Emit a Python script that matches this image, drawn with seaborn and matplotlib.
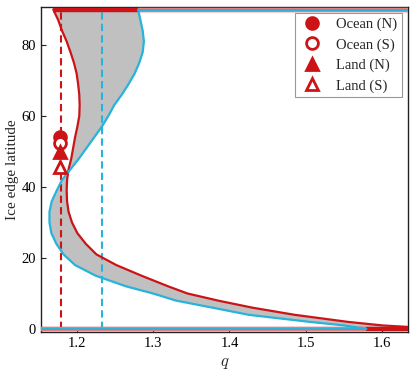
import numpy as np
import pandas as pd
import matplotlib
matplotlib.use("Agg")
import matplotlib.pyplot as plt
import seaborn as sns

# ---------------- data ----------------
lat = [90, 87, 84, 81, 78, 75, 72, 69, 66, 63, 60, 57, 54, 51, 48, 45, 42, 39,
       36, 33, 30, 27, 24, 21, 18, 15, 12, 10, 8, 6, 4, 2, 1, 0.5]
q_red = [1.1695, 1.176, 1.181, 1.187, 1.192, 1.1965, 1.200, 1.202, 1.2035, 1.204,
         1.2035, 1.201, 1.198, 1.1955, 1.193, 1.1895, 1.1875, 1.187, 1.1875, 1.1895,
         1.194, 1.201, 1.212, 1.226, 1.252, 1.285, 1.320, 1.345, 1.385, 1.430,
         1.485, 1.555, 1.600, 1.640]
q_cyan = [1.2805, 1.2835, 1.2865, 1.288, 1.2865, 1.282, 1.276, 1.268, 1.259, 1.249,
          1.2415, 1.233, 1.223, 1.213, 1.203, 1.192, 1.181, 1.174, 1.1675, 1.1645,
          1.1645, 1.167, 1.1735, 1.183, 1.198, 1.225, 1.265, 1.300, 1.330, 1.378,
          1.425, 1.505, 1.550, 1.565]
cyan_end_lat = [0.5, 0.0]
cyan_end_q = [1.565, 1.579]

# ice-free (90) and snowball (0) branches: [q_start, q_end]
x_min, x_max = 1.153, 1.634
icefree_red = [1.1695, x_max]
icefree_cyan = [1.2805, x_max]
snowball_red = [x_min, x_max]
snowball_cyan = [x_min, 1.579]

# critical q values (dashed lines)
q_crit_red = 1.1795
q_crit_cyan = 1.2327

# observed ice edges
obs_labels = ["Ocean (N)", "Ocean (S)", "Land (N)", "Land (S)"]
obs_q = [1.1785, 1.1785, 1.1785, 1.1785]
obs_lat = [54.2, 52.4, 49.9, 45.7]

RED = "#cc1417"
CYAN = "#27b3db"
GRAY = "#c0c0c0"

# ---------------- plot ----------------
sns.set_theme(style="ticks")
plt.rcParams["font.family"] = ["Liberation Serif", "DejaVu Serif"]
plt.rcParams["mathtext.fontset"] = "cm"

fig = plt.figure(figsize=(4.15, 3.72), dpi=100)
ax = fig.add_axes([0.098, 0.108, 0.886, 0.874])

ax.fill_betweenx(lat, q_red, q_cyan, color=GRAY, lw=0, zorder=1)

df_red = pd.DataFrame({"q": q_red, "lat": lat})
df_cyan = pd.DataFrame({"q": q_cyan + cyan_end_q[1:], "lat": lat + cyan_end_lat[1:]})
sns.lineplot(data=df_red, x="q", y="lat", sort=False, estimator=None,
             color=RED, lw=1.6, ax=ax, zorder=4)
sns.lineplot(data=df_cyan, x="q", y="lat", sort=False, estimator=None,
             color=CYAN, lw=1.6, ax=ax, zorder=4)

# branch bands
def band(xs, y, color, lw, alpha=1.0, z=3):
    ax.plot(xs, [y, y], color=color, lw=lw, alpha=alpha, zorder=z,
            solid_capstyle="butt")

band(icefree_red, 90, RED, 3.2)
band(icefree_cyan, 90, "white", 3.2, alpha=0.45, z=3.1)
band(icefree_cyan, 90, CYAN, 1.4, z=3.2)
band(snowball_red, 0, RED, 3.2)
band(snowball_cyan, 0, "white", 3.2, alpha=0.45, z=3.1)
band(snowball_cyan, 0, CYAN, 1.4, z=3.2)

# critical dashed lines
ax.plot([q_crit_red, q_crit_red], [0, 90], color=RED, lw=1.5,
        ls=(0, (3.5, 2)), zorder=2.5)
ax.plot([q_crit_cyan, q_crit_cyan], [0, 90], color=CYAN, lw=1.5,
        ls=(0, (3.5, 2)), zorder=2.5)

# observations
styles = [("o", RED), ("o", "white"), ("^", RED), ("^", "white")]
for lab, qq, la, (m, fc) in zip(obs_labels, obs_q, obs_lat, styles):
    ax.plot([qq], [la], ls="none", marker=m, markersize=8.5, markerfacecolor=fc,
            markeredgecolor=RED, markeredgewidth=2.0, label=lab, zorder=6)

ax.set_xlim(x_min, x_max)
ax.set_ylim(-0.8, 90.8)
ax.set_xticks([1.2, 1.3, 1.4, 1.5, 1.6])
ax.set_yticks([0, 20, 40, 60, 80])
ax.tick_params(direction="in", length=3.5, width=0.8, labelsize=10.5,
               colors="#222222", labelcolor="black")
for s in ax.spines.values():
    s.set_color("#222222")
    s.set_linewidth(1.0)
ax.set_xlabel(r"$q$", fontsize=12)
ax.set_ylabel("Ice edge latitude", fontsize=11, labelpad=2)

leg = ax.legend(loc="upper right", fontsize=10.5, fancybox=False, framealpha=1,
                edgecolor="#999999", borderpad=0.3, labelspacing=0.48,
                handlelength=1.6, handletextpad=0.9, borderaxespad=0.45)
leg.get_frame().set_linewidth(0.8)

fig.savefig("out.png", dpi=100)
